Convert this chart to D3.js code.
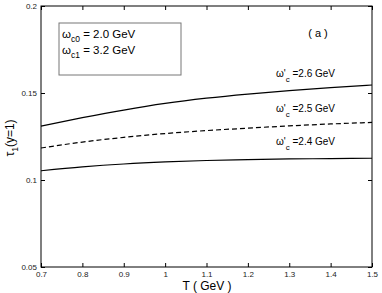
<!DOCTYPE html>
<html>
<head>
<meta charset="utf-8">
<script src="https://cdn.jsdelivr.net/npm/d3@7"></script>
<style>
  body { margin: 0; background: #fff; }
  text { font-family: "Liberation Sans", Arial, sans-serif; fill: #000; }
</style>
</head>
<body>
<svg id="chart" width="382" height="293"></svg>
<script>
// temperatures (GeV)
const temps = [0.7, 0.8, 0.9, 1.0, 1.1, 1.2, 1.3, 1.4, 1.5];
// tau_1(y=1) for each omega'_c
const tau26 = [0.1310, 0.1358, 0.1402, 0.1440, 0.1470, 0.1494, 0.1514, 0.1531, 0.1546];
const tau25 = [0.1184, 0.1218, 0.1245, 0.1267, 0.1284, 0.1298, 0.1311, 0.1322, 0.1331];
const tau24 = [0.1053, 0.1075, 0.1092, 0.1104, 0.1112, 0.1117, 0.1121, 0.1123, 0.1125];
const xTicks = [0.7, 0.8, 0.9, 1.0, 1.1, 1.2, 1.3, 1.4, 1.5];
const yTicks = [0.05, 0.1, 0.15, 0.2];

const svg = d3.select("#chart");
const mLeft = 41, mRight = 372, mTop = 6, mBottom = 267;

const x = d3.scaleLinear().domain([0.7, 1.5]).range([mLeft, mRight]);
const y = d3.scaleLinear().domain([0.05, 0.2]).range([mBottom, mTop]);

// frame
svg.append("rect")
  .attr("x", mLeft).attr("y", mTop)
  .attr("width", mRight - mLeft).attr("height", mBottom - mTop)
  .attr("fill", "none").attr("stroke", "#000").attr("stroke-width", 1);

// axes with inward ticks
const fmt = d => String(+d.toFixed(2));
svg.append("g").attr("transform", `translate(0,${mBottom})`)
  .call(d3.axisBottom(x).tickValues(xTicks).tickSize(-4).tickPadding(4).tickFormat(fmt))
  .call(g => g.select(".domain").remove());
svg.append("g").attr("transform", `translate(0,${mTop})`)
  .call(d3.axisTop(x).tickValues(xTicks).tickSize(-4).tickFormat(""))
  .call(g => g.select(".domain").remove());
svg.append("g").attr("transform", `translate(${mLeft},0)`)
  .call(d3.axisLeft(y).tickValues(yTicks).tickSize(-4).tickPadding(4).tickFormat(fmt))
  .call(g => g.select(".domain").remove());
svg.append("g").attr("transform", `translate(${mRight},0)`)
  .call(d3.axisRight(y).tickValues(yTicks).tickSize(-4).tickFormat(""))
  .call(g => g.select(".domain").remove());

svg.selectAll(".tick text").style("font-size", "8px").style("fill", "#222");
svg.selectAll(".tick line").attr("stroke", "#000");

// curves
const line = vals => d3.line()
  .x((d, i) => x(temps[i]))
  .y(d => y(d))
  .curve(d3.curveMonotoneX)(vals);

svg.append("path").attr("d", line(tau26)).attr("fill", "none")
  .attr("stroke", "#000").attr("stroke-width", 1.2);
svg.append("path").attr("d", line(tau25)).attr("fill", "none")
  .attr("stroke", "#000").attr("stroke-width", 1.2).attr("stroke-dasharray", "5,3");
svg.append("path").attr("d", line(tau24)).attr("fill", "none")
  .attr("stroke", "#000").attr("stroke-width", 1.2);

// curve labels
function omegaLabel(xp, yp, val) {
  const t = svg.append("text").attr("x", xp).attr("y", yp).style("font-size", "10px");
  t.append("tspan").text("ω'");
  t.append("tspan").attr("dy", 5).style("font-size", "8px").text("c");
  t.append("tspan").attr("dy", -5).text(" =" + val + " GeV");
}
omegaLabel(276, 77, "2.6");
omegaLabel(276, 112, "2.5");
omegaLabel(276, 145, "2.4");

svg.append("text").attr("x", 318).attr("y", 37).attr("text-anchor", "middle")
  .style("font-size", "11px").text("( a )");

// parameter box
svg.append("rect").attr("x", 59).attr("y", 23).attr("width", 122).attr("height", 52)
  .attr("fill", "none").attr("stroke", "#777").attr("stroke-width", 1);
function paramLabel(yp, sub, val) {
  const t = svg.append("text").attr("x", 62).attr("y", yp).style("font-size", "11.5px");
  t.append("tspan").text("ω");
  t.append("tspan").attr("dy", 4).style("font-size", "8.5px").text(sub);
  t.append("tspan").attr("dy", -4).text(" = " + val + " GeV");
}
paramLabel(38, "c0", "2.0");
paramLabel(54, "c1", "3.2");

// axis titles
svg.append("text").attr("x", 207).attr("y", 290).attr("text-anchor", "middle")
  .style("font-size", "12px").text("T ( GeV )");
const yl = svg.append("text").attr("transform", "translate(14,138) rotate(-90)")
  .attr("text-anchor", "middle").style("font-size", "12px");
yl.append("tspan").text("τ");
yl.append("tspan").attr("dy", 4).style("font-size", "8.5px").text("1");
yl.append("tspan").attr("dy", -4).text("(y=1)");
</script>
</body>
</html>
